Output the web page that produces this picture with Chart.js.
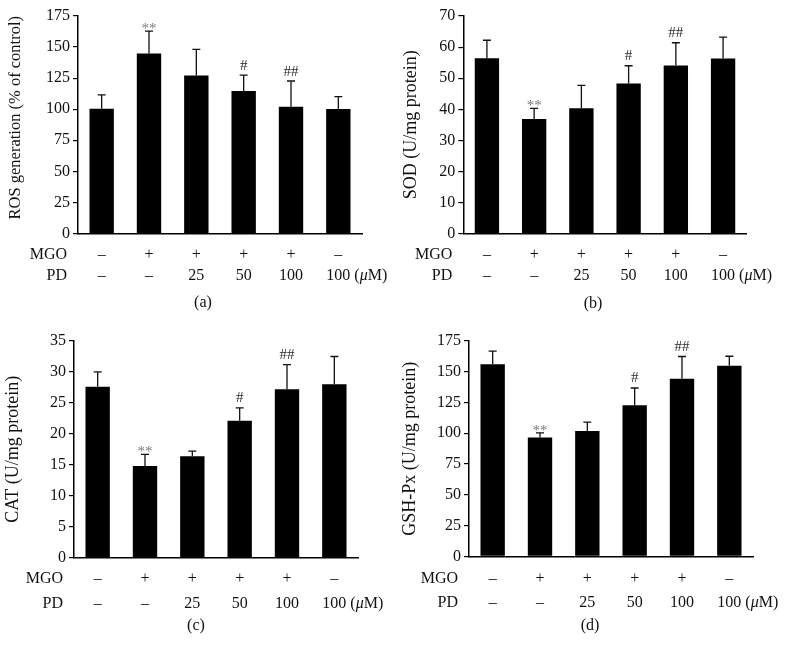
<!DOCTYPE html>
<html>
<head>
<meta charset="utf-8">
<title>Antioxidant markers</title>
<script src="https://cdn.jsdelivr.net/npm/chart.js@4.4.1/dist/chart.umd.min.js"></script>
<style>
  html, body { margin: 0; padding: 0; background: #fff; }
  body { width: 787px; height: 668px; position: relative; overflow: hidden; }
  .panel { position: absolute; }
  .panel canvas { display: block; }
</style>
</head>
<body>
<div class="panel" style="left:0;top:0"><canvas id="chart-ros" width="393" height="330"></canvas></div>
<div class="panel" style="left:393px;top:0"><canvas id="chart-sod" width="394" height="330"></canvas></div>
<div class="panel" style="left:0;top:330px"><canvas id="chart-cat" width="393" height="338"></canvas></div>
<div class="panel" style="left:393px;top:330px"><canvas id="chart-gsh" width="394" height="338"></canvas></div>

<script>
// groups and treatment rows under the x axis
const groups = ['Control', 'MGO', 'MGO+PD25', 'MGO+PD50', 'MGO+PD100', 'PD100'];
const mgoRow = ['–', '+', '+', '+', '+', '–'];
const pdRow = ['–', '–', '25', '50', '100', '100'];
const marks = ['', '**', '', '#', '##', ''];

// means and SD
const rosMean = [100.4, 144.9, 127.2, 114.7, 102.0, 100.1];
const rosSd = [11.2, 18.0, 20.9, 12.8, 20.7, 10.0];
const sodMean = [56.4, 36.9, 40.3, 48.3, 54.1, 56.3];
const sodSd = [5.8, 3.4, 7.4, 5.7, 7.3, 6.9];
const catMean = [27.6, 14.8, 16.4, 22.1, 27.2, 28.0];
const catSd = [2.4, 1.9, 0.8, 2.1, 4.0, 4.5];
const gshMean = [156.2, 96.5, 101.9, 122.8, 144.4, 154.8];
const gshSd = [10.5, 3.8, 7.2, 14.0, 18.0, 7.8];

const SERIF = '"Liberation Serif", "Times New Roman", serif';

// error bars, significance marks and the MGO / PD rows
const extrasPlugin = {
  id: 'extras',
  afterDatasetsDraw(chart, args, opts) {
    const ctx = chart.ctx;
    const x = chart.scales.x;
    const y = chart.scales.y;
    const area = chart.chartArea;
    const meta = chart.getDatasetMeta(0);

    ctx.save();
    ctx.strokeStyle = '#111';
    ctx.lineWidth = 1.3;
    meta.data.forEach((bar, i) => {
      const top = y.getPixelForValue(opts.mean[i] + opts.sd[i]);
      const cx = bar.x;
      ctx.beginPath();
      ctx.moveTo(cx, bar.y);
      ctx.lineTo(cx, top);
      ctx.moveTo(cx - 4, top);
      ctx.lineTo(cx + 4, top);
      ctx.stroke();

      const m = marks[i];
      if (m) {
        const star = m[0] === '*';
        ctx.font = '15px ' + SERIF;
        ctx.fillStyle = star ? '#7a7a7a' : '#2a2a2a';
        ctx.textAlign = 'center';
        ctx.textBaseline = 'alphabetic';
        ctx.fillText(m, cx, star ? top + 2 : top - 5.5);
      }
    });

    ctx.font = '16px ' + SERIF;
    ctx.fillStyle = '#111';
    ctx.textBaseline = 'middle';
    ctx.textAlign = 'right';
    ctx.fillText('MGO', area.left - 11, opts.rows[0]);
    ctx.fillText('PD', area.left - 11, opts.rows[1]);

    ctx.textAlign = 'center';
    mgoRow.forEach((s, i) => ctx.fillText(s, x.getPixelForValue(i), opts.rows[0]));
    pdRow.forEach((s, i) => ctx.fillText(s, x.getPixelForValue(i), opts.rows[1]));

    // unit after the last PD value
    const last = pdRow.length - 1;
    let ux = x.getPixelForValue(last) + ctx.measureText(pdRow[last]).width / 2;
    ctx.textAlign = 'left';
    ctx.fillText(' (', ux, opts.rows[1]);
    ux += ctx.measureText(' (').width;
    ctx.font = 'italic 16px ' + SERIF;
    ctx.fillText('μ', ux, opts.rows[1]);
    ux += ctx.measureText('μ').width;
    ctx.font = '16px ' + SERIF;
    ctx.fillText('M)', ux, opts.rows[1]);

    ctx.textAlign = 'center';
    ctx.fillText(opts.label, opts.labelX, opts.rows[2]);
    ctx.restore();
  }
};

function makePanel(id, yTitle, mean, sd, max, step, box) {
  const titleSize = box.titleSize || 18;
  new Chart(document.getElementById(id), {
    type: 'bar',
    data: {
      labels: groups,
      datasets: [{
        data: mean,
        backgroundColor: '#000',
        borderWidth: 0,
        barPercentage: 0.515,
        categoryPercentage: 1,
      }],
    },
    options: {
      responsive: false,
      animation: false,
      layout: { padding: { left: 0, top: box.top, right: box.w - box.right, bottom: 0 } },
      plugins: {
        legend: { display: false },
        tooltip: { enabled: false },
        extras: { mean: mean, sd: sd, rows: box.rows, label: box.label, labelX: box.labelX },
      },
      scales: {
        x: {
          grid: { display: false },
          border: { display: true, color: '#000', width: 1.5 },
          ticks: { display: false },
          afterFit: s => { s.height = box.h - box.bottom; },
        },
        y: {
          min: 0,
          max: max,
          ticks: {
            stepSize: step,
            color: '#111',
            padding: 3,
            font: { family: SERIF, size: 16, lineHeight: 1 },
          },
          grid: { drawOnChartArea: false, drawTicks: true, tickLength: 5, color: '#000', lineWidth: 1.2 },
          border: { color: '#000', width: 1.5 },
          title: {
            display: true,
            text: yTitle,
            color: '#111',
            align: box.titleAlign || 'center',
            font: { family: SERIF, size: titleSize },
            padding: { top: box.titleX - titleSize * 0.6, bottom: 0 },
          },
          afterFit: s => { s.width = box.left; },
        },
      },
    },
    plugins: [extrasPlugin],
  });
}

makePanel('chart-ros', 'ROS generation (% of control)', rosMean, rosSd, 175, 25,
  { w: 393, h: 330, left: 78, right: 362, top: 16, bottom: 233.5, rows: [255, 276, 303], label: '(a)', labelX: 203, titleX: 15.7, titleSize: 16.5, titleAlign: 'end' });
makePanel('chart-sod', 'SOD (U/mg protein)', sodMean, sodSd, 70, 10,
  { w: 394, h: 330, left: 70.3, right: 353.7, top: 16, bottom: 233.7, rows: [255, 276, 303.3], label: '(b)', labelX: 200, titleX: 18.7 });
makePanel('chart-cat', 'CAT (U/mg protein)', catMean, catSd, 35, 5,
  { w: 393, h: 338, left: 74, right: 358, top: 11, bottom: 227.7, rows: [248.3, 273.3, 295.7], label: '(c)', labelX: 196, titleX: 13.3 });
makePanel('chart-gsh', 'GSH-Px (U/mg protein)', gshMean, gshSd, 175, 25,
  { w: 394, h: 338, left: 76, right: 360, top: 9, bottom: 226.3, rows: [248.3, 272.7, 295.7], label: '(d)', labelX: 197, titleX: 17 });
</script>
</body>
</html>
